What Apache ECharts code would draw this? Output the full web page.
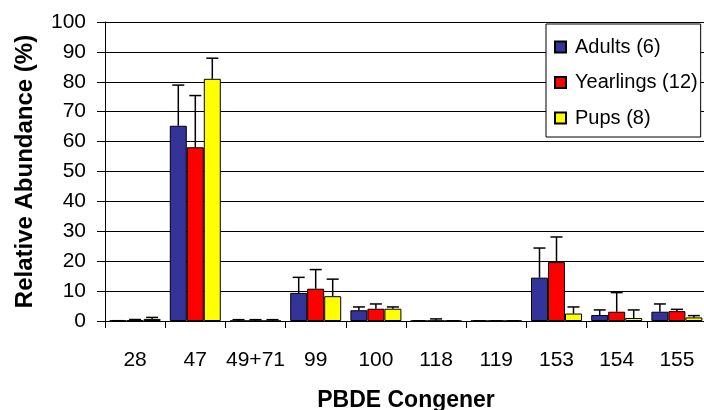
<!DOCTYPE html>
<html>
<head>
<meta charset="utf-8">
<script src="https://cdn.jsdelivr.net/npm/echarts@6/dist/echarts.min.js"></script>
<style>html,body{margin:0;padding:0;background:#fff;}#c{width:704px;height:410px;}</style>
</head>
<body>
<div id="c"></div>
<script>
var categories = ['28', '47', '49+71', '99', '100', '118', '119', '153', '154', '155'];
var seriesNames = ['Adults (6)', 'Yearlings (12)', 'Pups (8)'];
var adults      = [0.1, 65.3, 0.05, 9.4, 3.6, 0.05, 0.05, 14.5, 2.0, 3.1];
var adultsSd    = [0.0, 13.6, 0.4, 5.2, 1.1, 0.0, 0.0, 9.9, 1.7, 2.6];
var yearlings   = [0.2, 58.1, 0.05, 10.8, 4.1, 0.1, 0.05, 19.7, 3.1, 3.3];
var yearlingsSd = [0.3, 17.3, 0.4, 6.4, 1.6, 0.6, 0.0, 8.4, 6.4, 0.6];
var pups        = [0.7, 81.0, 0.05, 8.3, 4.1, 0.05, 0.05, 2.5, 1.0, 1.2];
var pupsSd      = [0.5, 6.9, 0.4, 5.7, 0.6, 0.0, 0.0, 2.2, 2.7, 0.6];
var yTicks = [0, 10, 20, 30, 40, 50, 60, 70, 80, 90, 100];

var colors = ['#333399', '#FF0000', '#FFFF00'];
var means = [adults, yearlings, pups];
var sds = [adultsSd, yearlingsSd, pupsSd];
var BAR_W = 17;
var FONT = 'Arial, "Liberation Sans", sans-serif';

var chart = echarts.init(document.getElementById('c'), null, {renderer: 'canvas'});

var series = [];
for (var s = 0; s < 3; s++) {
  series.push({
    name: seriesNames[s],
    type: 'bar',
    data: means[s],
    barWidth: BAR_W,
    barGap: '0%',
    barCategoryGap: '15%',
    itemStyle: {color: colors[s], borderColor: '#000', borderWidth: 1},
    emphasis: {disabled: true},
    animation: false,
    z: 2
  });
}
for (var s2 = 0; s2 < 3; s2++) {
  (function (si) {
    var errData = categories.map(function (c, i) { return [i, means[si][i], means[si][i] + sds[si][i]]; });
    series.push({
      type: 'custom',
      name: 'err' + si,
      data: errData,
      z: 3,
      animation: false,
      silent: true,
      renderItem: function (params, api) {
        var idx = api.value(0);
        var lo = api.coord([idx, api.value(1)]);
        var hi = api.coord([idx, api.value(2)]);
        var x = lo[0] + (si - 1) * BAR_W;
        var capHalf = 6;
        var style = {stroke: '#000', lineWidth: 1.5, fill: null};
        return {
          type: 'group',
          children: [
            {type: 'line', shape: {x1: x, y1: lo[1], x2: x, y2: hi[1]}, style: style},
            {type: 'line', shape: {x1: x - capHalf, y1: hi[1], x2: x + capHalf, y2: hi[1]}, style: style}
          ]
        };
      }
    });
  })(s2);
}

var option = {
  backgroundColor: '#fff',
  animation: false,
  textStyle: {fontFamily: FONT},
  grid: {left: 105, top: 22, right: -3, bottom: 89, containLabel: false, outerBoundsMode: 'none'},
  legend: {
    data: seriesNames,
    orient: 'vertical',
    left: 546,
    top: 24,
    padding: [12, 3, 8, 8],
    itemGap: 13.5,
    itemWidth: 11,
    itemHeight: 11,
    icon: 'rect',
    backgroundColor: '#fff',
    borderColor: '#000',
    borderWidth: 1,
    borderRadius: 0,
    selectedMode: false,
    textStyle: {fontFamily: FONT, fontSize: 20, color: '#000', lineHeight: 22, padding: [0, 0, 0, 4]}
  },
  xAxis: {
    type: 'category',
    data: categories,
    name: 'PBDE Congener',
    nameLocation: 'middle',
    nameGap: 68,
    nameTextStyle: {fontFamily: FONT, fontSize: 23, fontWeight: 'bold', color: '#000'},
    axisLine: {lineStyle: {color: '#000', width: 1}},
    axisTick: {show: true, length: 7, lineStyle: {color: '#000'}},
    axisLabel: {fontFamily: FONT, fontSize: 21, color: '#000', margin: 29, interval: 0, hideOverlap: false},
    splitLine: {show: false}
  },
  yAxis: {
    type: 'value',
    min: 0,
    max: 100,
    interval: 10,
    name: 'Relative Abundance (%)',
    nameLocation: 'middle',
    nameGap: 68,
    nameTextStyle: {fontFamily: FONT, fontSize: 24, fontWeight: 'bold', color: '#000'},
    axisLine: {show: true, lineStyle: {color: '#000', width: 1}},
    axisTick: {show: true, length: 8, lineStyle: {color: '#000'}},
    axisLabel: {fontFamily: FONT, fontSize: 21, color: '#000', margin: 19,
      formatter: function (v) { return yTicks.indexOf(v) >= 0 ? String(v) : ''; }},
    splitLine: {show: true, lineStyle: {color: '#000', width: 1}}
  },
  series: series
};
chart.setOption(option);
</script>
</body>
</html>
